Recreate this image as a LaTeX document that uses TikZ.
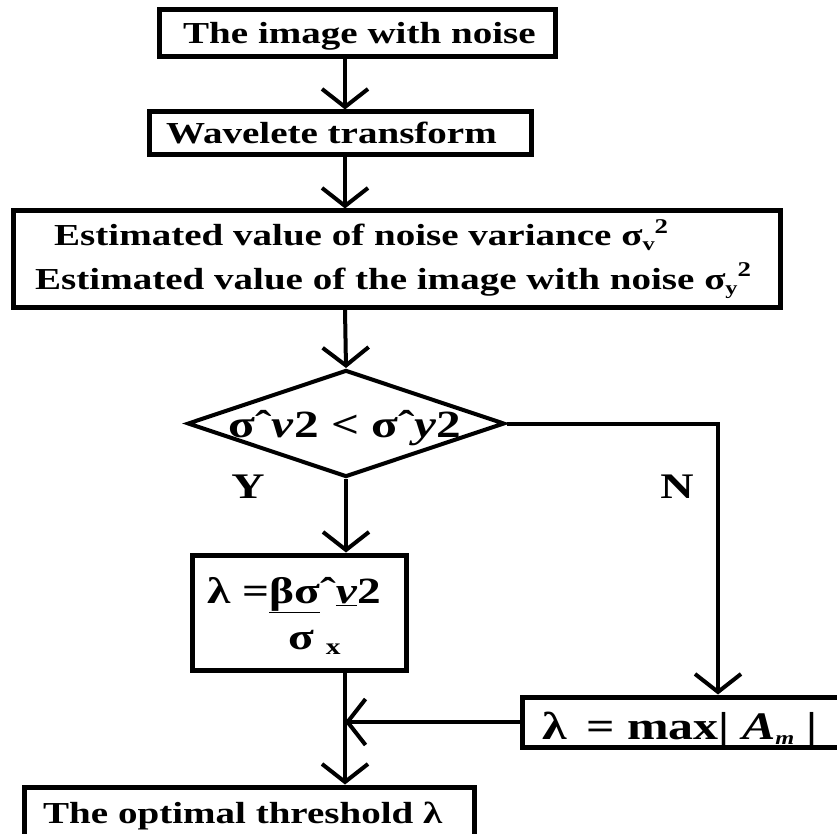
\documentclass[tikz,border=0pt]{standalone}
\usepackage{fontspec}
\setmainfont{Liberation Serif}[FakeStretch=1.28]
\usetikzlibrary{arrows.meta,shapes.geometric}
\tikzset{
  box/.style={draw, line width=5pt, rectangle, inner sep=0pt},
  decision/.style={draw, line width=4pt, diamond, inner sep=0pt},
  flow/.style={line width=4pt, -{Straight Barb[length=18pt,width=46pt,line width=4pt]}},
  lbl/.style={inner sep=0pt, anchor=base west, font=\bfseries\fontsize{30.5}{34}\selectfont},
  biglbl/.style={inner sep=0pt, anchor=base, font=\bfseries\fontsize{36}{40}\selectfont},
  formula/.style={lbl, font=\bfseries\fontsize{37}{40}\selectfont},
}
% small lowered / raised pieces for subscripts and superscripts
\newcommand\lowpart[1]{\raisebox{-5pt}{\fontsize{19}{19}\selectfont #1}}
\newcommand\highpart[1]{\raisebox{13pt}{\fontsize{21}{21}\selectfont #1}}

\begin{document}
\begin{tikzpicture}[x=1pt,y=-1pt]
\useasboundingbox (0,0) rectangle (837,834);
\clip (0,0) rectangle (837,834);
\fill[white] (0,0) rectangle (837,834);

% vertical spine of the flow
\coordinate (spine) at (345,0);
\coordinate (nx) at (718,0);

% boxes
\node[box, minimum width=396pt, minimum height=47pt] (b1) at (357,33.5) {};
\node[box, minimum width=382pt, minimum height=43pt] (b2) at (340,133.5) {};
\node[box, minimum width=767pt, minimum height=96pt] (b3) at (396.5,259) {};
\node[decision, minimum width=317pt, minimum height=107pt] (dia) at (346,423.5) {};
\node[box, minimum width=214pt, minimum height=115pt] (b4) at (299,612.5) {};
\node[box, minimum width=330pt, minimum height=50pt] (b5) at (687,722) {};
\node[box, minimum width=450pt, minimum height=73pt] (b6) at (249,823.5) {};

% texts
\node[lbl] (t1) at (183,44) {The image with noise};
\node[lbl] (t2) at (166,144) {Wavelete transform};
\node[lbl] (t3a) at (54,246) {Estimated value of noise variance σ\lowpart{v}\highpart{2}};
\node[lbl] (t3b) at (35,289) {Estimated value of the image with noise σ\lowpart{y}\highpart{2}};
\node[biglbl, font=\bfseries\fontsize{38.5}{42}\selectfont] (t4) at (345,437) {σˆ\textit{v}2 < σˆ\textit{y}2};
\node[biglbl] (ty) at (248,498) {Y};
\node[biglbl] (tn) at (677,498) {N};
\node[formula] (t5a) at (207,603) {λ =\underline{βσ}ˆ\underline{\textit{v}}2};
\node[formula] (t5b) at (288,649) {σ \raisebox{-5pt}{\fontsize{23}{23}\selectfont x}};
\node[formula, font=\bfseries\fontsize{39}{42}\selectfont] (t6) at (542,739) {λ\enspace = max| \textit{A}\lowpart{\textit{m}} |};
\node[lbl] (t7) at (43,823) {The optimal threshold λ};

% connectors
\draw[flow] (b1.south -| spine) -- (b2.north -| spine);
\draw[flow] (b2.south -| spine) -- (b3.north -| spine);
\draw[flow] (b3.south -| spine) -- (dia.north);
\draw[flow] (dia.south) -- (dia.south |- b4.north);
\draw[flow] (dia.east) -| (b5.north -| nx);
\draw[flow] (b4.south -| spine) -- (b6.north -| spine);
\draw[flow] (b5.west) -- (b5.west -| spine);
\end{tikzpicture}
\end{document}
